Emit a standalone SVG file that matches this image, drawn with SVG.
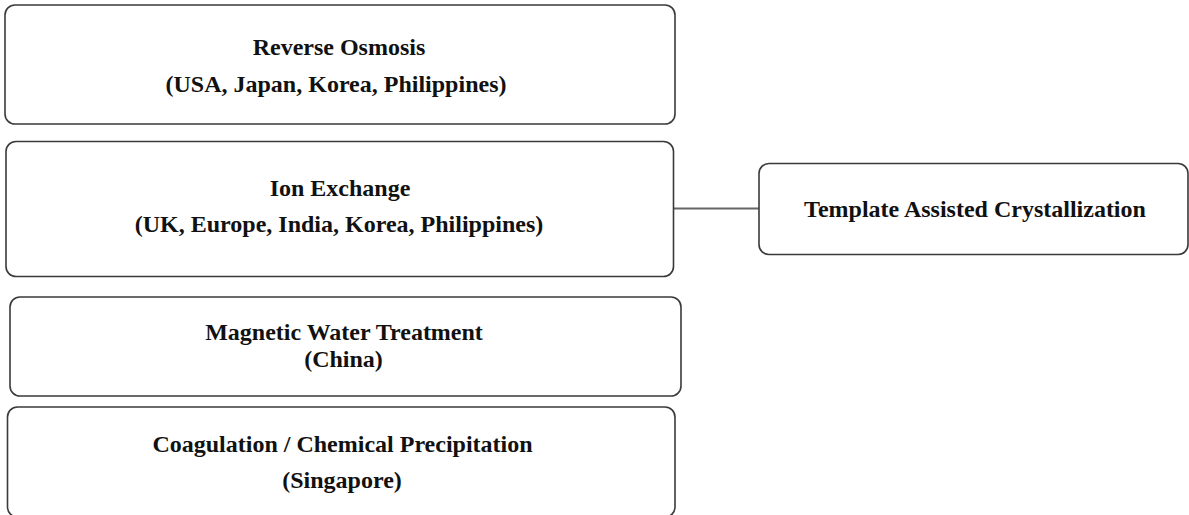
<svg xmlns="http://www.w3.org/2000/svg" width="1189" height="515" viewBox="0 0 1189 515">
<style>
.box{fill:#fff;stroke:#3a3a3a;stroke-width:1.6}
.t{font-family:"Liberation Serif","Times New Roman",serif;font-weight:bold;font-size:24px;fill:#111;text-anchor:middle}
.conn{stroke:#666;stroke-width:2;fill:none}
</style>
<rect width="1189" height="515" fill="#fff"/>
<g id="connectors">
<line class="conn" x1="673.5" y1="208.5" x2="759" y2="208.5"/>
</g>
<g id="reverse-osmosis">
<rect class="box" x="5" y="5" width="670" height="119" rx="10"/>
<text class="t" x="339" y="55">Reverse Osmosis</text>
<text class="t" x="336" y="91.5">(USA, Japan, Korea, Philippines)</text>
</g>
<g id="ion-exchange">
<rect class="box" x="6" y="141.5" width="667.5" height="135" rx="10"/>
<text class="t" x="340" y="196">Ion Exchange</text>
<text class="t" x="339" y="231.5">(UK, Europe, India, Korea, Philippines)</text>
</g>
<g id="template">
<rect class="box" x="759" y="163.5" width="429" height="91" rx="10"/>
<text class="t" x="975" y="217">Template Assisted Crystallization</text>
</g>
<g id="magnetic">
<rect class="box" x="10" y="297" width="671" height="99" rx="10"/>
<text class="t" x="344" y="340">Magnetic Water Treatment</text>
<text class="t" x="343.5" y="366.5">(China)</text>
</g>
<g id="coagulation">
<rect class="box" x="7.5" y="407" width="667.5" height="110" rx="10"/>
<text class="t" x="342.5" y="451.5">Coagulation / Chemical Precipitation</text>
<text class="t" x="342" y="488">(Singapore)</text>
</g>
</svg>
